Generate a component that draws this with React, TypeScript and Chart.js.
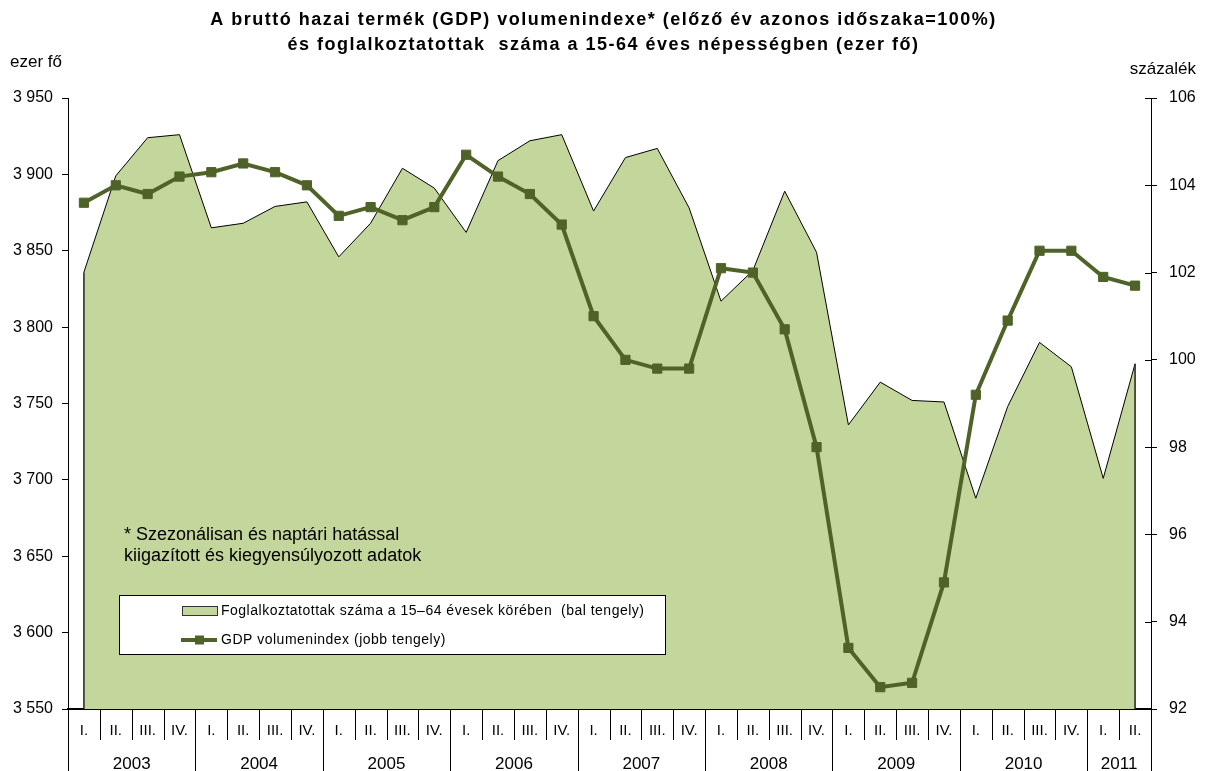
import React, { useEffect, useRef } from 'react';
import { Chart, registerables } from 'chart.js';

Chart.register(...registerables);

const FONT = '"Liberation Sans", Arial, Helvetica, sans-serif';

const titleLines = [
  'A bruttó hazai termék (GDP) volumenindexe* (előző év azonos időszaka=100%)',
  'és foglalkoztatottak  száma a 15-64 éves népességben (ezer fő)',
];
const leftUnit = 'ezer fő';
const rightUnit = 'százalék';
const footnoteLines = [
  '* Szezonálisan és naptári hatással',
  'kiigazított és kiegyensúlyozott adatok',
];
const seriesNames = [
  'Foglalkoztatottak száma a 15–64 évesek körében  (bal tengely)',
  'GDP volumenindex (jobb tengely)',
];

const years = ['2003', '2004', '2005', '2006', '2007', '2008', '2009', '2010', '2011'];
const quartersPerYear = [4, 4, 4, 4, 4, 4, 4, 4, 2];
const quarterNames = ['I.', 'II.', 'III.', 'IV.'];
const quarters: string[] = [];
quartersPerYear.forEach((n) => {
  for (let q = 0; q < n; q++) quarters.push(quarterNames[q]);
});

const employment = [
  3836, 3899, 3924, 3926,
  3865, 3868, 3879, 3882,
  3846, 3868, 3904, 3891,
  3862, 3909, 3922, 3926,
  3876, 3911, 3917, 3878,
  3817, 3837, 3889, 3849,
  3736, 3764, 3752, 3751,
  3688, 3748, 3790, 3774,
  3701, 3776,
];

const gdp = [
  103.6, 104.0, 103.8, 104.2,
  104.3, 104.5, 104.3, 104.0,
  103.3, 103.5, 103.2, 103.5,
  104.7, 104.2, 103.8, 103.1,
  101.0, 100.0, 99.8, 99.8,
  102.1, 102.0, 100.7, 98.0,
  93.4, 92.5, 92.6, 94.9,
  99.2, 100.9, 102.5, 102.5,
  101.9, 101.7,
];

const leftMin = 3550;
const leftMax = 3950;
const leftStep = 50;
const rightMin = 92;
const rightMax = 106;
const rightStep = 2;

const AREA_FILL = '#c3d69b';
const LINE_COLOR = '#4f6228';

const fmtThousands = (v: number) => {
  const s = String(Math.round(v));
  return s.length > 3 ? s.slice(0, s.length - 3) + ' ' + s.slice(s.length - 3) : s;
};

const setSpacing = (ctx: any, px: number) => {
  if ('letterSpacing' in ctx) ctx.letterSpacing = `${px}px`;
};

const decorPlugin = {
  id: 'decor',
  afterDatasetsDraw(chart: any) {
    const ctx = chart.ctx;
    const ca = chart.chartArea;
    const pts = chart.getDatasetMeta(1).data;
    if (!pts || !pts.length) return;
    ctx.save();
    ctx.strokeStyle = '#222';
    ctx.lineWidth = 1.5;
    const first = pts[0];
    const last = pts[pts.length - 1];
    ctx.beginPath();
    ctx.moveTo(first.x, first.y);
    ctx.lineTo(first.x, ca.bottom);
    ctx.moveTo(last.x, last.y);
    ctx.lineTo(last.x, ca.bottom);
    ctx.stroke();
    ctx.restore();
  },
  afterDraw(chart: any) {
    const ctx = chart.ctx;
    const ca = chart.chartArea;
    const xs = chart.scales.x;
    const y1 = chart.scales.y1;
    const W = chart.width;
    const H = chart.height;
    ctx.save();
    ctx.fillStyle = '#000';

    // Title
    ctx.textAlign = 'center';
    ctx.textBaseline = 'middle';
    ctx.font = `bold 18px ${FONT}`;
    setSpacing(ctx, 1.5);
    ctx.fillText(titleLines[0], W / 2, 20);
    ctx.fillText(titleLines[1], W / 2, 45);
    setSpacing(ctx, 0);

    // Units
    ctx.font = `17px ${FONT}`;
    ctx.textAlign = 'left';
    ctx.fillText(leftUnit, 10, 62);
    ctx.textAlign = 'right';
    ctx.fillText(rightUnit, 1196, 69);

    // Right axis inner tick stubs
    ctx.strokeStyle = '#000';
    ctx.lineWidth = 1;
    ctx.beginPath();
    y1.ticks.forEach((t: any) => {
      const py = Math.round(y1.getPixelForValue(t.value)) + 0.5;
      ctx.moveTo(ca.right - 6, py);
      ctx.lineTo(ca.right, py);
    });
    ctx.stroke();

    // X axis: quarter and year rows
    const n = quarters.length;
    const step = xs.getPixelForValue(1) - xs.getPixelForValue(0);
    const rowSplit = ca.bottom + 31;
    const yearStarts = new Set<number>();
    let acc = 0;
    quartersPerYear.forEach((c) => {
      yearStarts.add(acc);
      acc += c;
    });
    yearStarts.add(n);
    ctx.beginPath();
    for (let i = 0; i <= n; i++) {
      const bx = Math.round(xs.getPixelForValue(Math.min(i, n - 1)) + (i === n ? step / 2 : -step / 2)) + 0.5;
      ctx.moveTo(bx, ca.bottom);
      ctx.lineTo(bx, yearStarts.has(i) ? H : rowSplit);
    }
    ctx.stroke();

    ctx.textAlign = 'center';
    ctx.textBaseline = 'middle';
    ctx.font = `15px ${FONT}`;
    for (let i = 0; i < n; i++) {
      ctx.fillText(quarters[i], xs.getPixelForValue(i), ca.bottom + 22);
    }
    ctx.font = `17px ${FONT}`;
    let s = 0;
    years.forEach((yr, k) => {
      const c = quartersPerYear[k];
      const cx = (xs.getPixelForValue(s) + xs.getPixelForValue(s + c - 1)) / 2;
      ctx.fillText(yr, cx, ca.bottom + 55);
      s += c;
    });

    // Footnote
    ctx.textAlign = 'left';
    ctx.font = `18px ${FONT}`;
    ctx.fillText(footnoteLines[0], 124, 535);
    ctx.fillText(footnoteLines[1], 124, 556);

    // Legend box
    const bx0 = 119.5, by0 = 595.5, bw = 546, bh = 59;
    ctx.fillStyle = '#fff';
    ctx.fillRect(bx0, by0, bw, bh);
    ctx.strokeStyle = '#000';
    ctx.lineWidth = 1;
    ctx.strokeRect(bx0, by0, bw, bh);

    // Legend item 1: area
    ctx.fillStyle = AREA_FILL;
    ctx.fillRect(182, 606, 35, 9);
    ctx.strokeStyle = '#333';
    ctx.strokeRect(182.5, 606.5, 35, 9);
    ctx.fillStyle = '#000';
    ctx.font = `14px ${FONT}`;
    setSpacing(ctx, 0.5);
    ctx.textBaseline = 'middle';
    ctx.fillText(seriesNames[0], 221, 611);

    // Legend item 2: line
    ctx.strokeStyle = LINE_COLOR;
    ctx.lineWidth = 4;
    ctx.beginPath();
    ctx.moveTo(181, 640);
    ctx.lineTo(217, 640);
    ctx.stroke();
    ctx.fillStyle = LINE_COLOR;
    ctx.fillRect(195, 635.5, 9, 9);
    ctx.fillStyle = '#000';
    ctx.fillText(seriesNames[1], 221, 640);
    setSpacing(ctx, 0);

    ctx.restore();
  },
};

export default function App() {
  const canvasRef = useRef<HTMLCanvasElement | null>(null);

  useEffect(() => {
    document.body.style.margin = '0';
    const canvas = canvasRef.current;
    if (!canvas) return;
    Chart.defaults.font.family = FONT;
    const chart = new Chart(canvas, {
      type: 'line',
      data: {
        labels: quarters,
        datasets: [
          {
            label: seriesNames[1],
            data: gdp,
            yAxisID: 'y1',
            borderColor: LINE_COLOR,
            backgroundColor: LINE_COLOR,
            borderWidth: 4,
            pointStyle: 'rect',
            pointRadius: 6.5,
            pointBorderWidth: 1,
            pointBorderColor: LINE_COLOR,
            pointBackgroundColor: LINE_COLOR,
            tension: 0,
            fill: false,
            order: 0,
          },
          {
            label: seriesNames[0],
            data: employment,
            yAxisID: 'y',
            borderColor: '#000',
            backgroundColor: AREA_FILL,
            borderWidth: 1,
            pointRadius: 0,
            tension: 0,
            fill: 'start',
            order: 1,
          },
        ],
      },
      options: {
        responsive: true,
        maintainAspectRatio: false,
        animation: false,
        layout: { padding: { top: 98, left: 0, right: 0, bottom: 0 } },
        plugins: {
          legend: { display: false },
          title: { display: false },
          tooltip: { enabled: false },
        },
        scales: {
          x: {
            type: 'category',
            offset: true,
            ticks: { display: false },
            grid: { display: false },
            border: { display: true, color: '#000', width: 2 },
            afterFit: (s: any) => {
              s.height = 62;
            },
          },
          y: {
            position: 'left',
            min: leftMin,
            max: leftMax,
            ticks: {
              stepSize: leftStep,
              color: '#000',
              font: { size: 16, family: FONT },
              padding: 9,
              callback: (v: any) => fmtThousands(Number(v)),
            },
            grid: { drawOnChartArea: false, tickLength: 6, color: '#000' },
            border: { color: '#000', width: 1 },
            afterFit: (s: any) => {
              s.width = 68;
            },
          },
          y1: {
            position: 'right',
            min: rightMin,
            max: rightMax,
            ticks: {
              stepSize: rightStep,
              color: '#000',
              font: { size: 16, family: FONT },
              padding: 12,
            },
            grid: { drawOnChartArea: false, tickLength: 6, color: '#000' },
            border: { color: '#000', width: 1 },
            afterFit: (s: any) => {
              s.width = 56;
            },
          },
        },
      },
      plugins: [decorPlugin],
    });
    return () => chart.destroy();
  }, []);

  return (
    <div style={{ position: 'relative', width: 1207, height: 771 }}>
      <canvas ref={canvasRef} />
    </div>
  );
}
